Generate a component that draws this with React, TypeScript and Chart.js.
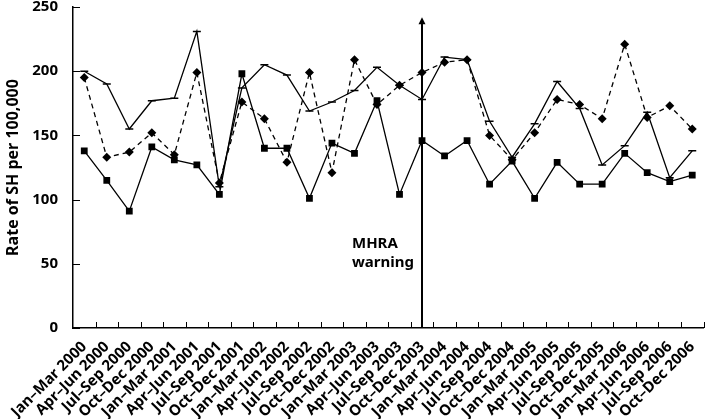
import React, { useEffect, useRef } from "react";
import { Chart, registerables } from "chart.js";

Chart.register(...registerables);

const quarters = [
  "Jan–Mar 2000", "Apr–Jun 2000", "Jul–Sep 2000", "Oct–Dec 2000",
  "Jan–Mar 2001", "Apr–Jun 2001", "Jul–Sep 2001", "Oct–Dec 2001",
  "Jan–Mar 2002", "Apr–Jun 2002", "Jul–Sep 2002", "Oct–Dec 2002",
  "Jan–Mar 2003", "Apr–Jun 2003", "Jul–Sep 2003", "Oct–Dec 2003",
  "Jan–Mar 2004", "Apr–Jun 2004", "Jul–Sep 2004", "Oct–Dec 2004",
  "Jan–Mar 2005", "Apr–Jun 2005", "Jul–Sep 2005", "Oct–Dec 2005",
  "Jan–Mar 2006", "Apr–Jun 2006", "Jul–Sep 2006", "Oct–Dec 2006",
];

const squareSeries = [138, 115, 91, 141, 131, 127, 104, 198, 140, 140, 101, 144, 136, 177, 104, 146, 134, 146, 112, 130, 101, 129, 112, 112, 136, 121, 114, 119];
const diamondSeries = [195, 133, 137, 152, 135, 199, 113, 176, 163, 129, 199, 121, 209, 174, 189, 199, 207, 209, 150, 131, 152, 178, 174, 163, 221, 164, 173, 155];
const dashSeries = [200, 190, 155, 177, 179, 231, 110, 187, 205, 197, 169, 176, 185, 203, 189, 178, 211, 209, 161, 133, 159, 192, 171, 127, 142, 168, 117, 138];

const yTitle = "Rate of SH per 100,000";
const yMin = 0;
const yMax = 250;
const yStep = 50;

const warningIndex = 15;
const warningArrowTop = 242;
const warningLines = ["MHRA", "warning"];
const warningTextValue = 62;

const FONT = "'Noto Sans', 'Liberation Sans', sans-serif";

export default function App() {
  const ref = useRef<HTMLCanvasElement | null>(null);

  useEffect(() => {
    if (!ref.current) return;
    const annotate = {
      id: "annotate",
      afterDraw(chart: any) {
        const ctx = chart.ctx;
        const xs = chart.scales.x;
        const ys = chart.scales.y;
        const area = chart.chartArea;
        ctx.save();
        ctx.strokeStyle = "#000";
        ctx.lineWidth = 1;
        const n = quarters.length;
        for (let i = 0; i < n; i++) {
          const a = xs.getPixelForValue(i);
          const b = i + 1 < n ? xs.getPixelForValue(i + 1) : a + (a - xs.getPixelForValue(i - 1));
          const px = Math.round((a + b) / 2) + 0.5;
          ctx.beginPath();
          ctx.moveTo(px, area.bottom);
          ctx.lineTo(px, area.bottom - 6);
          ctx.stroke();
        }
        ys.ticks.forEach((t: any) => {
          const py = Math.round(ys.getPixelForValue(t.value)) + 0.5;
          ctx.beginPath();
          ctx.moveTo(area.left, py);
          ctx.lineTo(area.left + 7, py);
          ctx.stroke();
        });
        const ax = Math.round(xs.getPixelForValue(warningIndex));
        const top = ys.getPixelForValue(warningArrowTop);
        ctx.lineWidth = 2;
        ctx.beginPath();
        ctx.moveTo(ax, area.bottom);
        ctx.lineTo(ax, top + 5);
        ctx.stroke();
        ctx.fillStyle = "#000";
        ctx.beginPath();
        ctx.moveTo(ax, top);
        ctx.lineTo(ax - 3.5, top + 7);
        ctx.lineTo(ax + 3.5, top + 7);
        ctx.closePath();
        ctx.fill();
        ctx.font = `bold 15px ${FONT}`;
        ctx.textAlign = "left";
        ctx.textBaseline = "alphabetic";
        const tx = ax - 70;
        const ty = ys.getPixelForValue(warningTextValue);
        warningLines.forEach((s, k) => {
          ctx.fillText(s, tx, ty + k * 19);
        });
        ctx.restore();
      },
    };

    const chart = new Chart(ref.current, {
      type: "line",
      data: {
        labels: quarters,
        datasets: [
          {
            data: dashSeries,
            borderColor: "#000",
            borderWidth: 1.3,
            pointStyle: "line",
            pointRadius: 4,
            pointBorderWidth: 1.5,
            pointBorderColor: "#000",
            pointBackgroundColor: "#000",
            fill: false,
            tension: 0,
          },
          {
            data: diamondSeries,
            borderColor: "#000",
            borderWidth: 1.3,
            borderDash: [5, 4],
            pointStyle: "rectRot",
            pointRadius: 4.5,
            pointBorderWidth: 0,
            pointBackgroundColor: "#000",
            fill: false,
            tension: 0,
          },
          {
            data: squareSeries,
            borderColor: "#000",
            borderWidth: 1.3,
            pointStyle: "rect",
            pointRadius: 4.8,
            pointBorderWidth: 0,
            pointBackgroundColor: "#000",
            fill: false,
            tension: 0,
          },
        ],
      },
      options: {
        responsive: false,
        maintainAspectRatio: false,
        animation: false,
        devicePixelRatio: 1,
        layout: { padding: { top: 0, right: 1, left: 0, bottom: 0 } },
        plugins: { legend: { display: false }, tooltip: { enabled: false } },
        scales: {
          x: {
            type: "category",
            offset: true,
            grid: { display: false },
            border: { display: true, color: "#000", width: 1.5 },
            ticks: {
              autoSkip: false,
              minRotation: 45,
              maxRotation: 45,
              color: "#000",
              padding: 2,
              font: { family: FONT, weight: "bold", size: 15 },
            },
            afterFit: (s: any) => {
              s.height = 91;
              s.paddingLeft = 0;
              s.paddingRight = 0;
            },
          },
          y: {
            min: yMin,
            max: yMax,
            grid: { display: false },
            border: { display: true, color: "#000", width: 1.5 },
            ticks: {
              stepSize: yStep,
              color: "#000",
              padding: 7,
              font: { family: FONT, weight: "bold", size: 15 },
            },
            title: {
              display: true,
              text: yTitle,
              color: "#000",
              padding: { top: 4, bottom: 0 },
              font: { family: FONT, weight: "bold", size: 16 },
            },
            afterFit: (s: any) => {
              s.width = 73;
              s.paddingTop = 7;
              s.paddingBottom = 0;
            },
          },
        },
      },
      plugins: [annotate],
    } as any);
    return () => chart.destroy();
  }, []);

  return (
    <div style={{ position: "fixed", left: 0, top: 0, width: 709, height: 419, background: "#fff" }}>
      <canvas ref={ref} width={709} height={419} />
    </div>
  );
}
